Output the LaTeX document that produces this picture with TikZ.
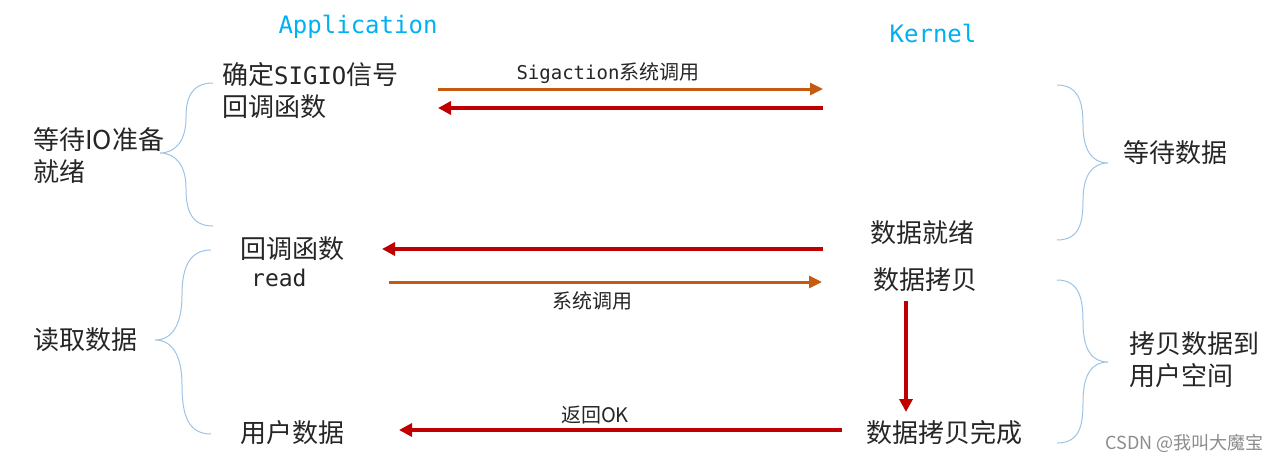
\documentclass[tikz,border=0pt]{standalone}
\usepackage{fontspec}
\setmainfont{Noto Sans CJK SC}
\newfontfamily\monof{DejaVu Sans Mono}
\usetikzlibrary{arrows.meta}
\definecolor{sky}{RGB}{0,176,240}
\definecolor{orng}{RGB}{197,90,17}
\definecolor{dred}{RGB}{192,0,0}
\definecolor{brc}{RGB}{157,195,230}
\definecolor{txt}{RGB}{38,38,38}
\begin{document}
\begin{tikzpicture}[x=1pt,y=-1pt,
  lbl/.style={text=txt, inner sep=0pt, font=\fontsize{26}{32}\selectfont, align=left},
  small/.style={text=txt, inner sep=0pt, font=\fontsize{20}{22}\selectfont},
  head/.style={text=sky, inner sep=0pt, font=\monof\fontsize{24}{26}\selectfont},
  orarrow/.style={draw=orng, line width=3pt, -{Triangle[length=13pt,width=12pt]}},
  rdarrow/.style={draw=dred, line width=3.5pt, -{Triangle[length=13pt,width=13pt]}},
  bracket/.style={draw=brc, line width=1pt}]
\useasboundingbox (0,0) rectangle (1277,463);
% headings
\node[head] (app) at (358,27) {Application};
\node[head] (ker) at (933,33) {Kernel};
% application side
\node[lbl, anchor=west] (sig) at (222,91) {确定{\monof\fontsize{24}{32}\selectfont SIGIO}信号\\回调函数};
\node[lbl, anchor=west] (wait) at (33,156) {等待IO准备\\就绪};
\node[lbl, anchor=west] (cb) at (240,249) {回调函数};
\node[lbl, anchor=west, font=\monof\fontsize{23}{28}\selectfont] (rd) at (251,278) {read};
\node[lbl, anchor=west] (rdd) at (33,340) {读取数据};
\node[lbl, anchor=west] (ud) at (240,433) {用户数据};
% kernel side
\node[lbl] (ready) at (922,233) {数据就绪};
\node[lbl] (copy) at (925,280) {数据拷贝};
\node[lbl] (done) at (944,433) {数据拷贝完成};
\node[lbl, anchor=west] (wd) at (1123,153) {等待数据};
\node[lbl, anchor=west] (cu) at (1129,360) {拷贝数据到\\用户空间};
% arrow labels
\node[small] (l1) at (608,73) {{\monof\fontsize{19}{22}\selectfont Sigaction}系统调用};
\node[small] (l2) at (592,301) {系统调用};
\node[small] (l3) at (595,415) {返回OK};
% watermark
\node[inner sep=0pt, anchor=east, text=black!45, font=\fontsize{18}{20}\selectfont] (wm) at (1264,443) {CSDN @我叫大魔宝};
% arrow end points
\coordinate (a1s) at (438,89);  \coordinate (a1e) at (823,89);
\coordinate (a2s) at (823,108); \coordinate (a2e) at (438,108);
\coordinate (a3s) at (823,249); \coordinate (a3e) at (382,249);
\coordinate (a4s) at (389,282); \coordinate (a4e) at (822,282);
\coordinate (a5s) at (906,301); \coordinate (a5e) at (906,412);
\coordinate (a6s) at (842,430); \coordinate (a6e) at (399,430);
\draw[orarrow] (a1s) -- (a1e);
\draw[rdarrow] (a2s) -- (a2e);
\draw[rdarrow] (a3s) -- (a3e);
\draw[orarrow] (a4s) -- (a4e);
\draw[rdarrow] (a5s) -- (a5e);
\draw[rdarrow] (a6s) -- (a6e);
% braces
\draw[bracket] (213,83) .. controls (190,83) and (186,100) .. (186,118)
  .. controls (186,140) and (176,153) .. (160,153)
  .. controls (176,153) and (186,166) .. (186,188)
  .. controls (186,208) and (190,226) .. (213,226);
\draw[bracket] (211,250) .. controls (188,250) and (182,270) .. (182,295)
  .. controls (182,325) and (172,340) .. (155,340)
  .. controls (172,340) and (182,355) .. (182,385)
  .. controls (182,415) and (188,434) .. (211,434);
\draw[bracket] (1057,85) .. controls (1080,85) and (1083,105) .. (1083,125)
  .. controls (1083,150) and (1092,163) .. (1108,163)
  .. controls (1092,163) and (1083,176) .. (1083,200)
  .. controls (1083,222) and (1080,240) .. (1057,240);
\draw[bracket] (1057,280) .. controls (1080,280) and (1083,300) .. (1083,322)
  .. controls (1083,350) and (1092,362) .. (1108,362)
  .. controls (1092,362) and (1083,374) .. (1083,402)
  .. controls (1083,425) and (1080,443) .. (1057,443);
\end{tikzpicture}
\end{document}
